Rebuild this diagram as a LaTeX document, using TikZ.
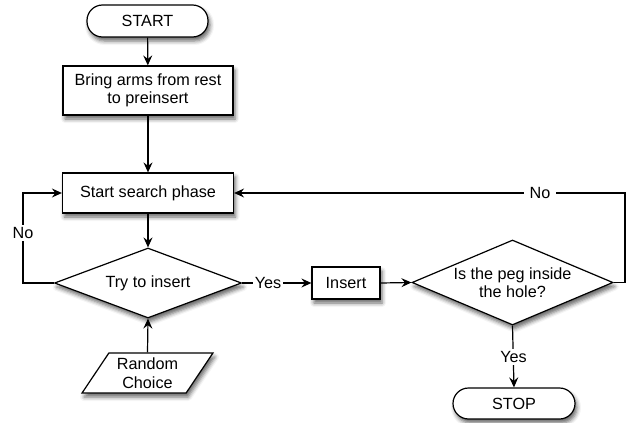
\documentclass[tikz,border=0pt]{standalone}
\usepackage{fontspec}
\setmainfont{Liberation Sans}
\usetikzlibrary{shapes.geometric,arrows.meta,shadows.blur}
\begin{document}
\begin{tikzpicture}[x=1pt,y=-1pt,
  every node/.style={font=\fontsize{16.2}{18.5}\selectfont},
  shad/.style={blur shadow={shadow xshift=2pt,shadow yshift=-4pt,shadow blur radius=4pt,shadow opacity=60}},
  term/.style={draw,line width=1.2pt,fill=white,rounded corners=15.5pt,inner sep=0pt,shad},
  proc/.style={draw,line width=1.2pt,fill=white,inner sep=0pt,align=center,shad},
  dec/.style={draw,line width=1.2pt,fill=white,shape=diamond,inner sep=0pt,shad},
  io/.style={draw,line width=1.2pt,fill=white,shape=trapezium,trapezium left angle=55,trapezium right angle=125,trapezium stretches=true,inner sep=0pt,align=center,shad},
  lab/.style={fill=white,inner sep=2pt},
  arr/.style={line width=1.2pt,-{Stealth[length=10pt,width=9pt,inset=3.5pt]}}
]
\useasboundingbox (0,0) rectangle (640,423);
\node[term,minimum width=121pt,minimum height=32pt] (start) at (147.5,21) {START};
\node[proc,minimum width=170pt,minimum height=49pt] (bring) at (148,90.5) {Bring arms from rest\\to preinsert};
\node[proc,minimum width=171pt,minimum height=40pt] (search) at (148,193) {Start search phase};
\node[dec,minimum width=187pt,minimum height=70pt] (try) at (148,283) {};
\node at (try) {Try to insert};
\node[io,minimum width=131pt,minimum height=40pt] (rand) at (147.5,373) {Random\\Choice};
\node[proc,minimum width=68pt,minimum height=32pt] (ins) at (346,283) {Insert};
\node[dec,minimum width=201pt,minimum height=85pt] (peg) at (512.5,282.5) {};
\node[align=center] at (peg) {Is the peg inside\\the hole?};
\node[term,minimum width=122pt,minimum height=31pt] (stop) at (514,403.5) {STOP};
\coordinate (lc) at (23,283);
\coordinate (lt) at (23,193);
\coordinate (rc) at (625,282.5);
\coordinate (rt) at (625,193);
\draw[arr] (start) -- (bring);
\draw[arr] (bring) -- (search);
\draw[arr] (search) -- (try.north);
\draw[arr] (rand.north) -- (try.south);
\draw[arr] (try.west) -- (lc) -- (lt) -- (search.west);
\node[lab] (no1) at (23,233) {No};
\draw[arr] (try.east) -- (ins.west);
\node[lab] (yes1) at (268,283) {Yes};
\draw[arr] (ins.east) -- (peg.west);
\draw[arr] (peg.east) -- (rc) -- (rt) -- (search.east);
\node[lab,inner xsep=6pt] (no2) at (540,193) {No};
\draw[arr] (peg.south) -- (stop.north);
\node[lab] (yes2) at (513.5,357) {Yes};
\end{tikzpicture}
\end{document}
